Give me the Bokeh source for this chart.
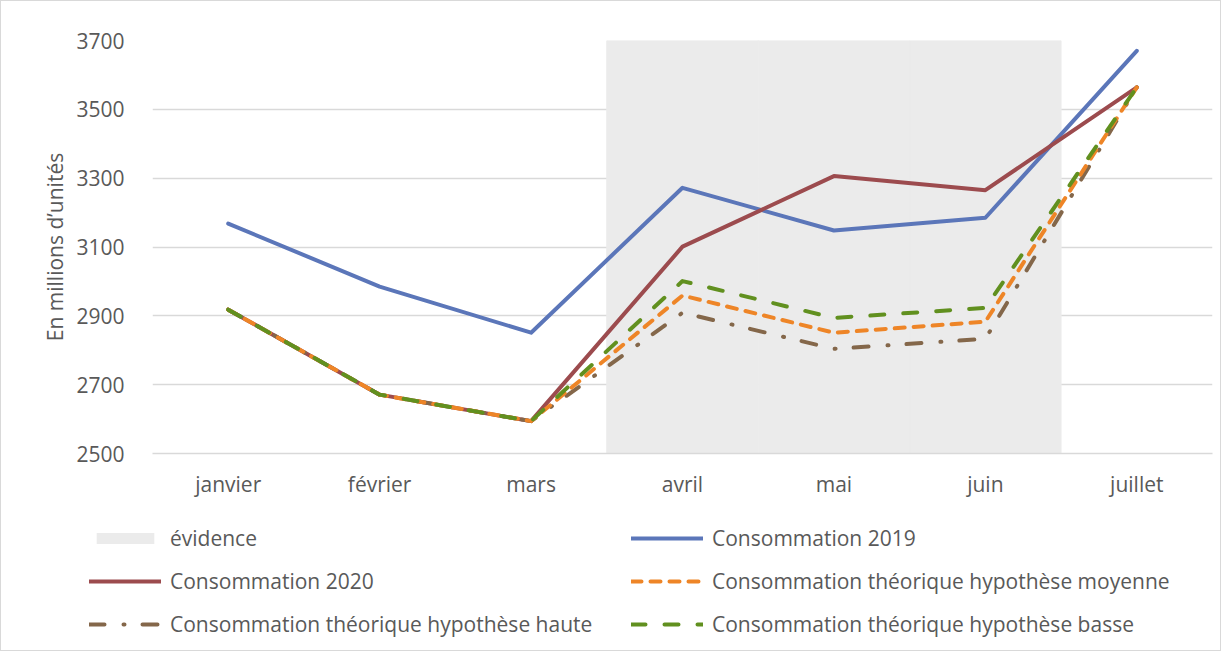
from bokeh.plotting import figure
from bokeh.models import FactorRange, Range1d, FixedTicker, Legend, LegendItem
from bokeh.layouts import column
from bokeh.embed import file_html
from bokeh.resources import INLINE

months = ["janvier", "février", "mars", "avril", "mai", "juin", "juillet"]
evidence = [None, None, None, 3700, 3700, 3700, None]
conso_2019 = [3168, 2985, 2851, 3272, 3148, 3185, 3670]
conso_2020 = [2918, 2671, 2594, 3101, 3306, 3265, 3564]
hyp_moyenne = [2918, 2671, 2594, 2959, 2851, 2883, 3564]
hyp_haute = [2918, 2671, 2594, 2909, 2804, 2833, 3564]
hyp_basse = [2918, 2671, 2594, 3001, 2894, 2923, 3564]
y_ticks = [2500, 2700, 2900, 3100, 3300, 3500, 3700]

FONT = "Open Sans"
TXT = "#595959"
GRID = "#d9d9d9"

styles = {
    "évidence": dict(kind="bar", fill_color="#ebebeb"),
    "Consommation 2019": dict(line_color="#5b76b9", line_width=4),
    "Consommation 2020": dict(line_color="#9c4b4e", line_width=4),
    "Consommation théorique hypothèse haute": dict(line_color="#84674a", line_width=4, line_dash="15 19 1 18"),
    "Consommation théorique hypothèse moyenne": dict(line_color="#ee8527", line_width=4, line_dash="10 9"),
    "Consommation théorique hypothèse basse": dict(line_color="#61901f", line_width=4, line_dash="14 19"),
}

p = figure(x_range=FactorRange(*months), y_range=Range1d(2500, 3700),
           frame_width=1060, frame_height=413, output_backend="svg", toolbar_location=None,
           min_border_left=151, min_border_right=8, min_border_top=39, min_border_bottom=52)
p.outline_line_color = None

ev_x = [m for m, v in zip(months, evidence) if v is not None]
ev_top = [v for v in evidence if v is not None]
p.vbar(x=ev_x, top=ev_top, bottom=2500, width=1.0, fill_color="#ebebeb",
       line_color="#ebebeb", line_width=1)

series = [("Consommation 2019", conso_2019), ("Consommation 2020", conso_2020),
          ("Consommation théorique hypothèse haute", hyp_haute),
          ("Consommation théorique hypothèse moyenne", hyp_moyenne),
          ("Consommation théorique hypothèse basse", hyp_basse)]
for name, vals in series:
    p.line(months, vals, line_join="round", line_cap="round", **styles[name])

# axes
p.yaxis.ticker = FixedTicker(ticks=y_ticks)
p.yaxis.axis_line_color = None
p.yaxis.major_tick_line_color = None
p.yaxis.minor_tick_line_color = None
p.yaxis.major_label_text_font = FONT
p.yaxis.major_label_text_font_size = "21px"
p.yaxis.major_label_text_color = TXT
p.yaxis.major_label_standoff = 22
p.yaxis.axis_label = "En millions d’unités"
p.yaxis.axis_label_text_font = FONT
p.yaxis.axis_label_text_font_size = "21px"
p.yaxis.axis_label_text_font_style = "normal"
p.yaxis.axis_label_text_color = TXT
p.yaxis.axis_label_standoff = 4

p.xaxis.axis_line_color = GRID
p.xaxis.axis_line_width = 1.5
p.xaxis.major_tick_line_color = None
p.xaxis.minor_tick_line_color = None
p.xaxis.major_label_text_font = FONT
p.xaxis.major_label_text_font_size = "21px"
p.xaxis.major_label_text_color = TXT
p.xaxis.major_label_standoff = 10

p.xgrid.grid_line_color = None
p.ygrid.grid_line_color = GRID
p.ygrid.grid_line_width = 1.5
p.ygrid.ticker = FixedTicker(ticks=y_ticks)

# legend panel
L_W, L_H = 1219, 145
pl = figure(width=L_W, height=L_H, x_range=Range1d(0, L_W), y_range=Range1d(0, L_H),
            output_backend="svg", toolbar_location=None, min_border=0,
            x_axis_location=None, y_axis_location=None)
pl.outline_line_color = None
pl.xgrid.visible = False
pl.ygrid.visible = False
for fig in (p, pl):
    try:
        fig.frame_align = False
    except Exception:
        pass

NAN = float("nan")

def legend_renderer(name):
    st = dict(styles[name])
    if st.pop("kind", None) == "bar":
        return pl.vbar(x=[NAN], top=[NAN], width=1, line_color=None, **st)
    return pl.line(x=[NAN], y=[NAN], line_join="round", line_cap="round", **st)

col1 = ["évidence", "Consommation 2020", "Consommation théorique hypothèse haute"]
col2 = ["Consommation 2019", "Consommation théorique hypothèse moyenne", "Consommation théorique hypothèse basse"]

def mk_legend(names, loc):
    return Legend(items=[LegendItem(label=n, renderers=[legend_renderer(n)]) for n in names],
                  location=loc, orientation="vertical",
                  glyph_width=72, glyph_height=14, label_standoff=9, spacing=15,
                  label_height=27, padding=0, margin=0, border_line_color=None,
                  background_fill_alpha=0, label_text_font=FONT, label_text_font_size="21px",
                  label_text_color=TXT)

pl.add_layout(mk_legend(col1, (88, 12)), "center")
pl.add_layout(mk_legend(col2, (630, 12)), "center")

layout = column(p, pl, spacing=0)
layout.styles = {"border": "1px solid #d9d9d9"}

open("out.html", "w").write(file_html(layout, INLINE))
